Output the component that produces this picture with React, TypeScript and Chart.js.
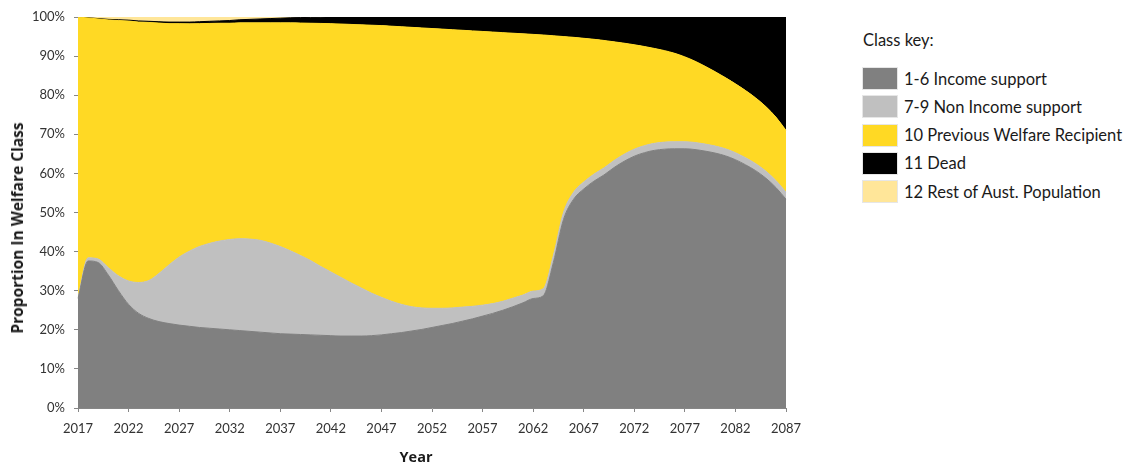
import React, { useEffect, useRef } from 'react';
import { Chart, registerables } from 'chart.js';

Chart.register(...registerables);

const years: string[] = Array.from({ length: 71 }, (_, i) => String(2017 + i));
const tickYears = ['2017', '2022', '2027', '2032', '2037', '2042', '2047', '2052', '2057', '2062', '2067', '2072', '2077', '2082', '2087'];

const incomeSupport = [
  28.0, 37.6, 37.2, 34.0, 30.0, 26.5, 24.2, 22.9, 22.1, 21.6,
  21.2, 20.9, 20.6, 20.4, 20.2, 20.0, 19.8, 19.6, 19.4, 19.2,
  19.0, 18.9, 18.8, 18.7, 18.6, 18.5, 18.4, 18.4, 18.4, 18.5,
  18.7, 19.0, 19.3, 19.7, 20.1, 20.6, 21.1, 21.6, 22.2, 22.8,
  23.5, 24.2, 25.0, 25.9, 26.9, 28.0, 28.7, 37.2, 48.2, 53.4,
  56.0, 58.0, 59.6, 61.5, 63.1, 64.4, 65.3, 65.9, 66.2, 66.3,
  66.3, 66.1, 65.7, 65.2, 64.5, 63.5, 62.2, 60.7, 58.8, 56.4, 53.4,
];
const nonIncomeSupport = [
  0.2, 0.8, 0.9, 1.9, 3.8, 6.0, 7.9, 9.7, 12.3, 15.0,
  17.4, 19.2, 20.7, 21.7, 22.5, 23.1, 23.5, 23.6, 23.5, 23.0,
  22.3, 21.3, 20.2, 19.0, 17.6, 16.3, 15.0, 13.6, 12.3, 10.9,
  9.6, 8.3, 7.2, 6.2, 5.5, 4.9, 4.4, 4.0, 3.6, 3.2,
  2.8, 2.5, 2.3, 2.2, 2.0, 1.9, 1.8, 1.8, 1.8, 1.8,
  1.8, 1.8, 1.8, 1.8, 1.8, 1.8, 1.8, 1.8, 1.8, 1.8,
  1.8, 1.8, 1.8, 1.8, 1.8, 1.8, 1.8, 1.8, 1.8, 1.8, 1.8,
];
const previousWelfare = [
  71.8, 61.35, 61.4, 63.35, 65.3, 66.45, 66.6, 66.0, 64.05, 61.7,
  59.7, 58.15, 57.0, 56.25, 55.7, 55.3, 55.2, 55.3, 55.6, 56.3,
  57.2, 58.3, 59.45, 60.7, 62.15, 63.5, 64.8, 66.1, 67.3, 68.5,
  69.5, 70.35, 71.0, 71.45, 71.6, 71.55, 71.4, 71.15, 70.8, 70.45,
  70.0, 69.45, 68.7, 67.75, 66.8, 65.65, 64.9, 56.2, 45.0, 39.6,
  36.75, 34.5, 32.6, 30.35, 28.4, 26.7, 25.35, 24.25, 23.4, 22.6,
  21.7, 20.8, 19.9, 19.0, 18.2, 17.6, 17.2, 16.8, 16.5, 16.2, 15.8,
];
const dead = [
  0, 0.05, 0.1, 0.15, 0.2, 0.25, 0.3, 0.3, 0.35, 0.4,
  0.4, 0.45, 0.5, 0.55, 0.6, 0.7, 0.8, 0.9, 1.0, 1.1,
  1.2, 1.3, 1.4, 1.5, 1.6, 1.7, 1.8, 1.9, 2.0, 2.1,
  2.2, 2.35, 2.5, 2.65, 2.8, 2.95, 3.1, 3.25, 3.4, 3.55,
  3.7, 3.85, 4.0, 4.15, 4.3, 4.45, 4.6, 4.8, 5.0, 5.2,
  5.45, 5.7, 6.0, 6.35, 6.7, 7.1, 7.55, 8.05, 8.6, 9.3,
  10.2, 11.3, 12.6, 14.0, 15.5, 17.1, 18.8, 20.7, 22.9, 25.6, 29.0,
];
const restOfPopulation = [
  0, 0.2, 0.4, 0.6, 0.7, 0.8, 1.0, 1.1, 1.2, 1.3,
  1.3, 1.3, 1.2, 1.1, 1.0, 0.9, 0.7, 0.6, 0.5, 0.4,
  0.3, 0.2, 0.15, 0.1, 0.05, 0, 0, 0, 0, 0,
  0, 0, 0, 0, 0, 0, 0, 0, 0, 0,
  0, 0, 0, 0, 0, 0, 0, 0, 0, 0,
  0, 0, 0, 0, 0, 0, 0, 0, 0, 0,
  0, 0, 0, 0, 0, 0, 0, 0, 0, 0, 0,
];

const seriesNames = ['1-6 Income support', '7-9 Non Income support', '10 Previous Welfare Recipient', '11 Dead', '12 Rest of Aust. Population'];
const seriesColors = ['#808080', '#c0c0c0', '#FFD924', '#000000', '#FFE699'];

const FONT = 'Lato, "Open Sans", sans-serif';
const TITLE_FONT = '"Open Sans", Lato, sans-serif';

export default function App() {
  const ref = useRef<HTMLCanvasElement>(null);

  useEffect(() => {
    const values = [incomeSupport, nonIncomeSupport, previousWelfare, dead, restOfPopulation];
    const chart = new Chart(ref.current!, {
      type: 'line',
      data: {
        labels: years,
        datasets: values.map((d, i) => ({
          label: seriesNames[i],
          data: d,
          backgroundColor: seriesColors[i],
          borderColor: seriesColors[i],
          borderWidth: 1,
          pointRadius: 0,
          fill: i === 0 ? 'origin' : '-1',
          cubicInterpolationMode: 'monotone' as const,
        })),
      },
      options: {
        animation: false,
        responsive: true,
        maintainAspectRatio: false,
        layout: { padding: { top: 17, right: 34, bottom: 0, left: 0 } },
        plugins: { legend: { display: false }, tooltip: { enabled: false } },
        scales: {
          x: {
            type: 'category',
            grid: { display: true, drawOnChartArea: false, drawTicks: true, tickLength: 4, color: '#868686' },
            border: { display: true, color: '#868686' },
            ticks: {
              autoSkip: false,
              maxRotation: 0,
              padding: 9,
              color: '#333333',
              font: { family: FONT, size: 13 },
            },
            afterBuildTicks: (scale: any) => {
              scale.ticks = scale.ticks.filter((t: any) => tickYears.includes(years[t.value]));
            },
            afterFit: (scale: any) => {
              scale.height = 56;
            },
          },
          y: {
            stacked: true,
            min: 0,
            max: 100,
            grid: { display: true, drawOnChartArea: false, drawTicks: true, tickLength: 4, color: '#868686' },
            border: { display: true, color: '#868686' },
            ticks: {
              stepSize: 10,
              padding: 9,
              color: '#333333',
              font: { family: FONT, size: 13 },
              callback: (v: any) => v + '%',
            },
            afterFit: (scale: any) => {
              scale.width = 78;
            },
          },
        },
      },
    });
    return () => chart.destroy();
  }, []);

  return (
    <div style={{ position: 'fixed', left: 0, top: 0, width: 1136, height: 464, background: '#fff', fontFamily: FONT, color: '#1a1a1a' }}>
      <div style={{ position: 'absolute', left: 0, top: 0, width: 820, height: 464 }}>
        <canvas ref={ref} />
      </div>
      <div
        style={{
          position: 'absolute', left: 17, top: 228, transform: 'translate(-50%, -50%) rotate(-90deg)',
          whiteSpace: 'nowrap', fontWeight: 700, fontSize: 15.5, fontFamily: TITLE_FONT,
        }}
      >
        Proportion In Welfare Class
      </div>
      <div style={{ position: 'absolute', left: 416, top: 456, transform: 'translate(-50%, -50%)', fontWeight: 700, fontSize: 14.5, fontFamily: TITLE_FONT }}>
        Year
      </div>
      <div style={{ position: 'absolute', left: 863, top: 30, fontSize: 16.5, lineHeight: '20px' }}>Class key:</div>
      {seriesNames.map((name, i) => (
        <div key={name} style={{ position: 'absolute', left: 862, top: 67 + i * 28.3, height: 23, display: 'flex', alignItems: 'center' }}>
          <div style={{ width: 36, height: 23, background: seriesColors[i], border: '1px solid #e6e6e6', boxSizing: 'border-box' as const }} />
          <span style={{ marginLeft: 6, fontSize: 16.5, whiteSpace: 'nowrap' }}>{name}</span>
        </div>
      ))}
    </div>
  );
}
